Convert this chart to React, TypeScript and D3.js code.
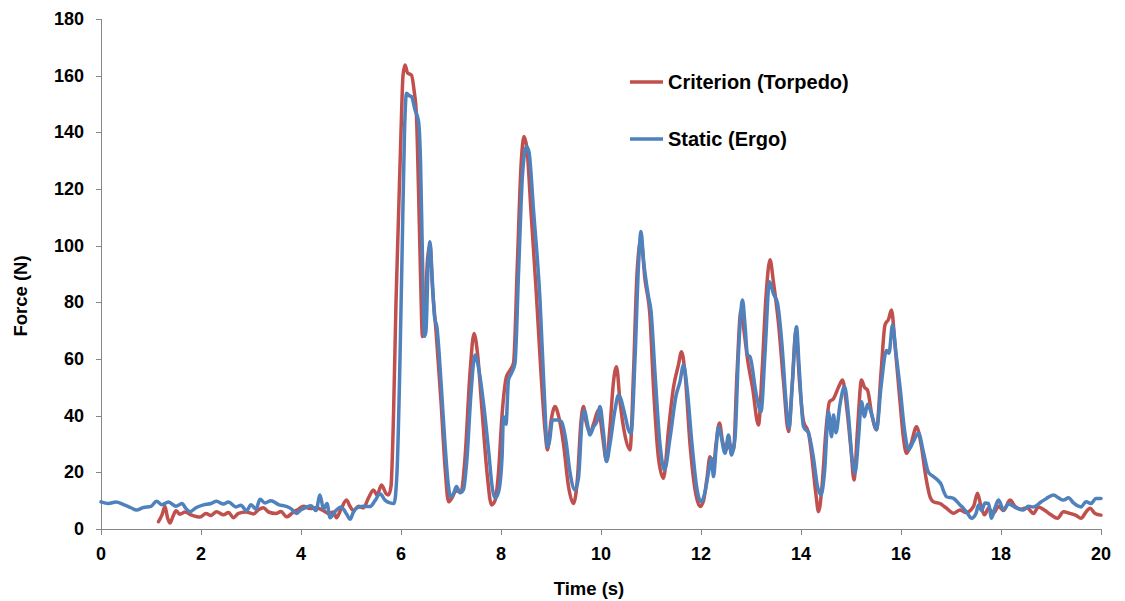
import React from "react";
import * as d3 from "d3";

// Static (Ergo) force trace: time (s) and force (N)
const staticTime = [
  0.0, 0.15, 0.3, 0.45, 0.6, 0.71, 0.85, 1.0, 1.11, 1.22, 1.35, 1.5, 1.62, 1.7, 1.78, 1.9, 2.05, 2.2, 2.31, 2.45,
  2.55, 2.7, 2.8, 2.91, 3.0, 3.1, 3.18, 3.28, 3.4, 3.55, 3.7, 3.8, 3.91, 4.0, 4.1, 4.2, 4.3, 4.38, 4.45, 4.52,
  4.58, 4.7, 4.8, 4.92, 4.98, 5.05, 5.11, 5.25, 5.38, 5.48, 5.58, 5.68, 5.78, 5.86, 5.92, 5.98, 6.03, 6.07, 6.11, 6.16,
  6.21, 6.28, 6.35, 6.39, 6.43, 6.47, 6.5, 6.54, 6.58, 6.62, 6.67, 6.72, 6.8, 6.88, 6.95, 6.99, 7.05, 7.11, 7.18, 7.25,
  7.32, 7.4, 7.48, 7.55, 7.65, 7.75, 7.83, 7.88, 7.95, 8.02, 8.05, 8.1, 8.15, 8.21, 8.28, 8.35, 8.43, 8.51, 8.56, 8.65,
  8.78, 8.86, 8.93, 8.97, 9.03, 9.12, 9.21, 9.3, 9.38, 9.48, 9.55, 9.62, 9.67, 9.72, 9.78, 9.85, 9.92, 9.98, 10.05, 10.11,
  10.18, 10.28, 10.35, 10.48, 10.55, 10.6, 10.68, 10.75, 10.8, 10.85, 10.95, 11.0, 11.08, 11.18, 11.27, 11.38, 11.5, 11.58, 11.65, 11.72,
  11.82, 11.92, 12.0, 12.08, 12.15, 12.21, 12.25, 12.3, 12.35, 12.4, 12.48, 12.55, 12.61, 12.68, 12.75, 12.83, 12.88, 12.93, 12.98, 13.1,
  13.2, 13.28, 13.37, 13.45, 13.53, 13.62, 13.7, 13.76, 13.83, 13.91, 13.96, 14.05, 14.15, 14.25, 14.33, 14.4, 14.47, 14.55, 14.61, 14.65,
  14.7, 14.78, 14.87, 14.95, 15.02, 15.08, 15.15, 15.21, 15.27, 15.33, 15.42, 15.51, 15.6, 15.71, 15.76, 15.83, 15.9, 15.98, 16.07, 16.15,
  16.25, 16.35, 16.45, 16.55, 16.65, 16.72, 16.81, 16.86, 16.91, 17.05, 17.18, 17.25, 17.33, 17.41, 17.5, 17.55, 17.61, 17.68, 17.75, 17.81,
  17.88, 17.95, 18.05, 18.15, 18.3, 18.45, 18.55, 18.65, 18.8, 18.91, 19.05, 19.15, 19.25, 19.35, 19.45, 19.6, 19.7, 19.8, 19.9, 20.0,
];
const staticForce = [
  9.6, 9.0, 9.5, 8.6, 7.5, 6.7, 7.6, 8.0, 9.8, 8.6, 9.5, 8.0, 9.0, 7.2, 6.1, 7.5, 8.5, 9.0, 9.8, 8.8,
  9.5, 7.8, 8.4, 6.4, 8.6, 7.0, 10.5, 9.2, 10.0, 8.6, 8.0, 7.2, 5.5, 6.8, 7.6, 8.2, 6.5, 12.0, 7.0, 9.0,
  4.0, 6.5, 7.8, 5.0, 3.4, 6.0, 7.4, 8.0, 7.9, 10.0, 12.4, 10.2, 9.2, 9.0, 20, 60, 105, 140, 153.8, 153.0,
  152.6, 148, 144, 130, 95, 68, 70, 92, 101.4, 90, 75, 71, 52, 30, 15, 11.4, 12.5, 15.0, 12.8, 14.0,
  25, 48, 61.4, 57, 44.4, 28, 14, 10.9, 13, 25, 39.6, 37, 52.6, 55, 58.5, 90, 125, 135, 133, 112.6,
  80.8, 50, 29, 31, 38.5, 38.5, 37.9, 31, 20, 13.8, 18, 38, 42, 38, 33.2, 36, 38, 43.2, 34, 23.8,
  30, 42, 47.3, 40.2, 35, 33.8, 60, 93, 105, 95, 82, 77, 55, 30, 20.8, 32, 47, 52, 57.9, 50,
  30, 14, 9.6, 13, 20, 24.9, 18.5, 28, 36.1, 33, 26.7, 33.2, 26.1, 32, 62, 80.8, 72, 61.4, 60.8, 48,
  41.4, 62, 87.3, 83, 79.7, 65, 45, 35.6, 52, 71.4, 58, 36.1, 33.8, 25, 15, 12.0, 20, 41.4, 32.6, 40.2,
  34, 44, 50.3, 40, 25, 19.7, 32, 44.9, 39.6, 44, 40, 35, 50, 63, 62, 72, 62, 50.2, 35, 28,
  31, 33.9, 27, 20, 18.5, 17.5, 15.5, 13, 11.4, 10.8, 8.5, 7.3, 5.5, 3.8, 5.5, 8.5, 6.5, 9.2, 9.0, 3.8,
  7.5, 10.2, 6.8, 8.8, 7.5, 6.7, 8.0, 7.8, 9.5, 10.8, 12.0, 11.0, 10.2, 11.0, 9.2, 7.8, 9.6, 9.0, 10.8, 10.8,
];

// Criterion (Torpedo) force trace: time (s) and force (N)
const criterionTime = [
  1.15, 1.22, 1.28, 1.33, 1.38, 1.44, 1.5, 1.58, 1.68, 1.8, 1.98, 2.1, 2.2, 2.31, 2.45, 2.55, 2.65, 2.75, 2.9, 3.05,
  3.15, 3.25, 3.35, 3.5, 3.6, 3.71, 3.85, 3.95, 4.05, 4.18, 4.3, 4.45, 4.55, 4.65, 4.71, 4.8, 4.91, 4.98, 5.05, 5.15,
  5.25, 5.35, 5.45, 5.52, 5.61, 5.7, 5.75, 5.8, 5.85, 5.9, 5.95, 6.0, 6.04, 6.08, 6.13, 6.21, 6.26, 6.31, 6.35, 6.39,
  6.43, 6.47, 6.53, 6.58, 6.63, 6.7, 6.8, 6.88, 6.95, 7.02, 7.1, 7.2, 7.28, 7.38, 7.46, 7.53, 7.62, 7.72, 7.81, 7.88,
  7.95, 8.02, 8.11, 8.18, 8.25, 8.33, 8.4, 8.46, 8.52, 8.6, 8.7, 8.8, 8.88, 8.93, 9.0, 9.08, 9.15, 9.25, 9.35, 9.45,
  9.53, 9.6, 9.65, 9.7, 9.78, 9.85, 9.95, 10.03, 10.11, 10.18, 10.25, 10.31, 10.38, 10.48, 10.58, 10.65, 10.72, 10.8, 10.88, 10.98,
  11.05, 11.15, 11.25, 11.35, 11.45, 11.55, 11.61, 11.68, 11.78, 11.9, 11.98, 12.05, 12.12, 12.18, 12.25, 12.3, 12.37, 12.43, 12.5, 12.57,
  12.65, 12.72, 12.8, 12.86, 12.93, 13.03, 13.15, 13.22, 13.3, 13.38, 13.45, 13.55, 13.65, 13.75, 13.82, 13.9, 13.97, 14.05, 14.15, 14.22,
  14.3, 14.35, 14.42, 14.5, 14.57, 14.65, 14.75, 14.83, 14.92, 15.0, 15.06, 15.13, 15.21, 15.27, 15.33, 15.42, 15.51, 15.6, 15.68, 15.75,
  15.81, 15.88, 15.98, 16.05, 16.11, 16.2, 16.31, 16.4, 16.5, 16.58, 16.65, 16.78, 16.9, 17.05, 17.18, 17.3, 17.45, 17.53, 17.6, 17.67,
  17.75, 17.85, 17.95, 18.05, 18.18, 18.28, 18.4, 18.52, 18.65, 18.75, 18.88, 19.0, 19.13, 19.25, 19.38, 19.5, 19.6, 19.7, 19.78, 19.88,
  20.0,
];
const criterionForce = [
  2.6, 5.0, 7.9, 4.0, 2.1, 4.5, 6.4, 5.2, 6.0, 5.0, 4.2, 5.5, 4.8, 6.1, 5.0, 5.8, 4.0, 5.5, 6.0, 5.3,
  6.8, 7.5, 6.0, 5.5, 6.2, 4.3, 6.0, 7.0, 8.0, 7.2, 7.5, 6.5, 5.5, 6.0, 4.0, 7.0, 10.2, 8.0, 6.5, 8.0,
  7.5, 11.0, 13.8, 12.0, 15.5, 12.5, 12.0, 15, 40, 80, 110, 140, 160, 163.8, 161, 160.2, 155, 145.5, 120, 90,
  67.9, 72, 95, 100, 85, 70, 45, 22, 9.6, 11, 13.5, 13, 25, 55, 69, 62, 42, 20, 8.5, 10,
  20, 40, 53.8, 56, 58.5, 95, 128, 138.5, 134, 112, 85, 55, 35, 27.9, 38, 43.2, 40, 30, 15, 9.0,
  18, 38, 43.2, 38, 34, 37, 42, 33, 24, 36, 52, 57.3, 45, 33, 27.9, 55, 90, 102, 88, 75,
  50, 25, 17.9, 35, 50, 58, 62.6, 55, 30, 12, 7.9, 10, 18, 25.5, 22, 30, 37.4, 31, 28, 30,
  28, 55, 77.2, 70, 60, 50, 36.7, 55, 82, 95, 87, 72.6, 52, 34.4, 50, 70, 52, 38, 34, 25,
  12, 6.1, 15, 35, 44.9, 46, 50, 52.6, 42, 28, 17.3, 35, 52.6, 50, 49, 40, 35, 55, 72, 74,
  77.3, 65, 45, 32, 26.7, 30, 36.1, 30, 18, 11.4, 9.6, 9.0, 7.5, 5.6, 6.7, 5.8, 8, 12.6, 8, 5.0,
  7.3, 5.6, 8, 6.5, 10.2, 8.0, 7.0, 7.5, 5.5, 7.8, 6.5, 5.0, 3.8, 6.1, 5.5, 4.8, 3.8, 6.0, 7.3, 5.5,
  4.9,
];

const xTicks = [0, 2, 4, 6, 8, 10, 12, 14, 16, 18, 20];
const yTicks = [0, 20, 40, 60, 80, 100, 120, 140, 160, 180];

const seriesNames = ["Criterion (Torpedo)", "Static (Ergo)"];
const seriesColors = ["#C0504D", "#4F81BD"];

const W = 1125;
const H = 601;
const margin = { left: 101, top: 19, right: 24, bottom: 72 };
const FONT = "'Liberation Sans', Arial, sans-serif";
const AXIS = "#868686";

export default function App() {
  const x = d3.scaleLinear().domain([0, 20]).range([margin.left, W - margin.right]);
  const y = d3.scaleLinear().domain([0, 180]).range([H - margin.bottom, margin.top]);

  const line = d3
    .line<[number, number]>()
    .x((d) => x(d[0]))
    .y((d) => y(d[1]))
    .curve(d3.curveMonotoneX);

  const criterion: [number, number][] = criterionTime.map((t, i) => [t, criterionForce[i]]);
  const stat: [number, number][] = staticTime.map((t, i) => [t, staticForce[i]]);

  const x0 = x(0);
  const y0 = y(0);

  return (
    <svg
      width={W}
      height={H}
      style={{ position: "absolute", left: 0, top: 0, background: "#fff" }}
      fontFamily={FONT}
    >
      {/* y axis */}
      <line x1={x0 + 0.5} x2={x0 + 0.5} y1={y(180)} y2={y0} stroke={AXIS} strokeWidth={1} />
      {yTicks.map((v) => (
        <g key={"y" + v}>
          <line x1={x0 - 5} x2={x0} y1={Math.round(y(v)) + 0.5} y2={Math.round(y(v)) + 0.5} stroke={AXIS} />
          <text
            x={84}
            y={y(v)}
            textAnchor="end"
            dominantBaseline="central"
            fontSize={18}
            fontWeight="bold"
            fill="#000"
          >
            {v}
          </text>
        </g>
      ))}

      {/* x axis */}
      <line x1={x0} x2={x(20)} y1={y0 + 0.5} y2={y0 + 0.5} stroke={AXIS} strokeWidth={1} />
      {xTicks.map((v) => (
        <g key={"x" + v}>
          <line x1={Math.round(x(v)) + 0.5} x2={Math.round(x(v)) + 0.5} y1={y0} y2={y0 + 6} stroke={AXIS} />
          <text
            x={x(v)}
            y={554}
            textAnchor="middle"
            dominantBaseline="central"
            fontSize={18}
            fontWeight="bold"
            fill="#000"
          >
            {v}
          </text>
        </g>
      ))}

      {/* axis titles */}
      <text x={589} y={588} textAnchor="middle" dominantBaseline="central" fontSize={18.5} fontWeight="bold">
        Time (s)
      </text>
      <text
        transform={`translate(20, 296) rotate(-90)`}
        textAnchor="middle"
        dominantBaseline="central"
        fontSize={18.5}
        fontWeight="bold"
      >
        Force (N)
      </text>

      {/* series */}
      <path
        d={line(criterion) || ""}
        fill="none"
        stroke={seriesColors[0]}
        strokeWidth={3.5}
        strokeLinejoin="round"
        strokeLinecap="round"
      />
      <path
        d={line(stat) || ""}
        fill="none"
        stroke={seriesColors[1]}
        strokeWidth={3.5}
        strokeLinejoin="round"
        strokeLinecap="round"
      />

      {/* legend */}
      {seriesNames.map((name, i) => (
        <g key={name} transform={`translate(630, ${82 + i * 57})`}>
          <line x1={0} x2={33} y1={0} y2={0} stroke={seriesColors[i]} strokeWidth={3.5} />
          <text x={38} y={0} dominantBaseline="central" fontSize={20} fontWeight="bold" fill="#000">
            {name}
          </text>
        </g>
      ))}
    </svg>
  );
}
